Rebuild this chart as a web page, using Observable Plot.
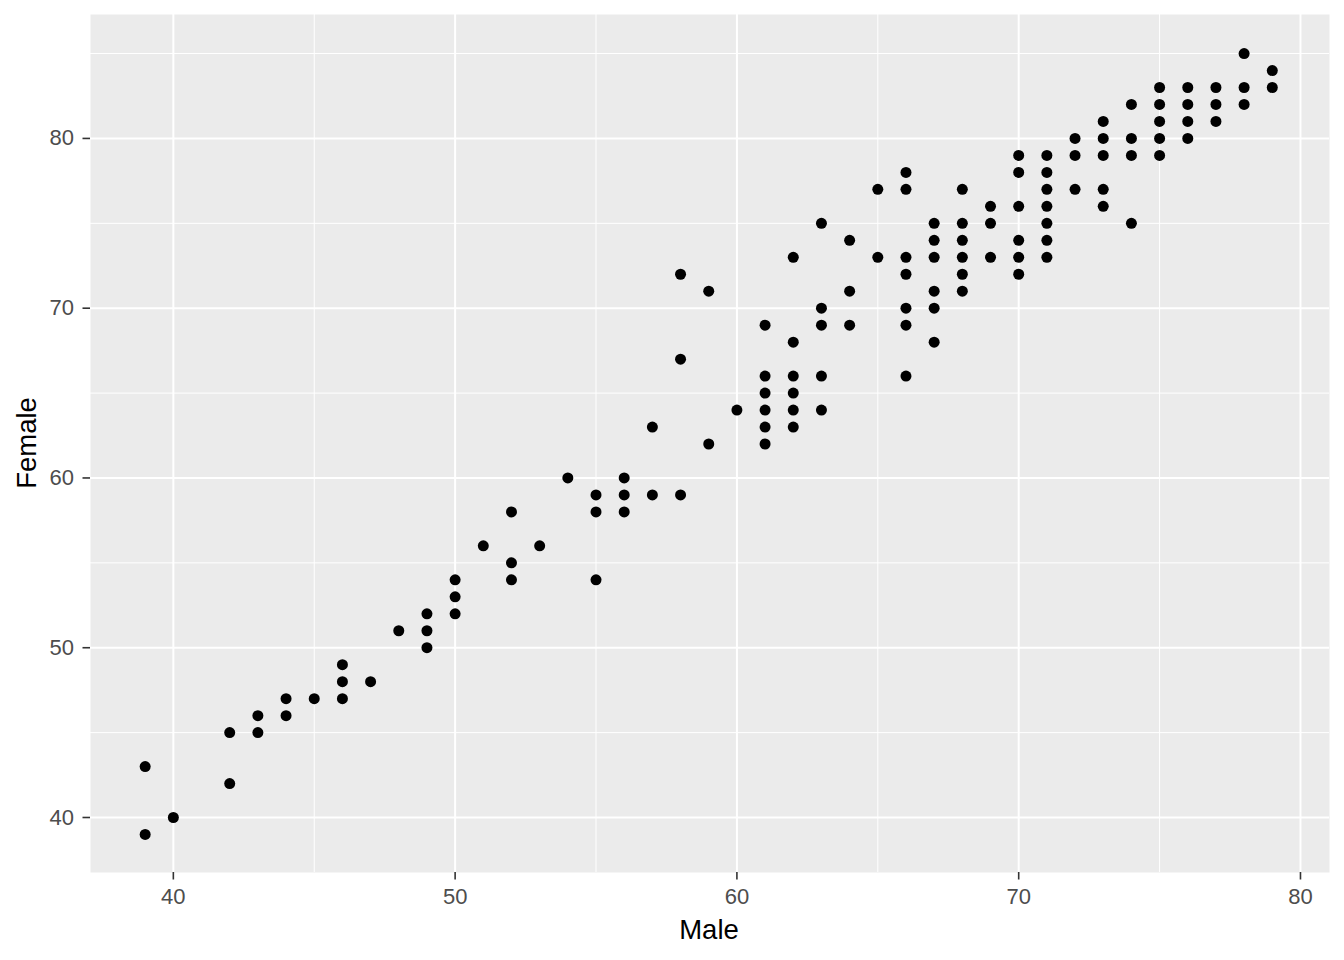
<!DOCTYPE html>
<html>
<head>
<meta charset="utf-8">
<script src="https://cdn.jsdelivr.net/npm/d3@7"></script>
<script src="https://cdn.jsdelivr.net/npm/@observablehq/plot@0.6"></script>
<style>
  html, body { margin: 0; padding: 0; background: #fff; }
  svg { display: block; }
</style>
</head>
<body>
<div id="chart"></div>
<script>
const male = [39,39,40,42,42,43,43,44,44,45,46,46,46,47,48,49,49,49,50,50,50,51,52,52,52,53,54,55,55,55,56,56,56,57,57,58,58,58,59,59,60,
  61,61,61,61,61,61,62,62,62,62,62,62,63,63,63,63,63,64,64,64,65,65,66,66,66,66,66,66,66,67,67,67,67,67,67,68,68,68,68,68,68,69,69,69,
  70,70,70,70,70,70,71,71,71,71,71,71,71,72,72,72,73,73,73,73,73,74,74,74,74,75,75,75,75,75,76,76,76,76,77,77,77,78,78,78,79,79];
const female = [43,39,40,45,42,46,45,47,46,47,49,48,47,48,51,52,51,50,54,53,52,56,58,55,54,56,60,59,58,54,60,59,58,63,59,72,67,59,71,62,64,
  69,66,65,64,63,62,73,68,66,65,64,63,75,70,69,66,64,74,71,69,77,73,78,77,73,72,70,69,66,75,74,73,71,70,68,77,75,74,73,72,71,76,75,73,
  79,78,76,74,73,72,79,78,77,76,75,74,73,80,79,77,81,80,79,77,76,82,80,79,75,83,82,81,80,79,83,82,81,80,83,82,81,85,83,82,84,83];
const xTicks = [40, 50, 60, 70, 80];
const yTicks = [40, 50, 60, 70, 80];
const xMinor = [45, 55, 65, 75];
const yMinor = [45, 55, 65, 75, 85];

const data = male.map((m, i) => ({Male: m, Female: female[i]}));

const chart = Plot.plot({
  width: 1344,
  height: 960,
  marginLeft: 90,
  marginRight: 15,
  marginTop: 14,
  marginBottom: 88,
  style: {fontFamily: "'Liberation Sans', Arial, sans-serif", background: "#fff"},
  x: {domain: [37.06, 81.03], label: null},
  y: {domain: [36.76, 87.3], label: null},
  marks: [
    Plot.frame({fill: "#EBEBEB", stroke: null}),
    Plot.ruleX(xMinor, {stroke: "#fff", strokeWidth: 1}),
    Plot.ruleY(yMinor, {stroke: "#fff", strokeWidth: 1}),
    Plot.ruleX(xTicks, {stroke: "#fff", strokeWidth: 2}),
    Plot.ruleY(yTicks, {stroke: "#fff", strokeWidth: 2}),
    Plot.axisX(xTicks, {tickSize: 7.5, tickPadding: 8.5, stroke: "#333", fill: "#4D4D4D", label: null, strokeWidth: 1.6, fontSize: 22}),
    Plot.axisY(yTicks, {tickSize: 7.5, tickPadding: 9, stroke: "#333", fill: "#4D4D4D", label: null, strokeWidth: 1.6, fontSize: 22}),
    Plot.dot(data, {x: "Male", y: "Female", r: 5.5, fill: "#000", stroke: null})
  ]
});

const svg = d3.select(chart);
svg.selectAll("g[aria-label$='tick label']").attr("font-size", 22);
svg.selectAll("g[aria-label$='tick label'] text").attr("font-size", 22);
svg.append("text")
  .attr("x", 709).attr("y", 939)
  .attr("text-anchor", "middle")
  .attr("font-size", 27.5).attr("fill", "#000")
  .attr("font-family", "'Liberation Sans', Arial, sans-serif")
  .text("Male");
svg.append("text")
  .attr("transform", "translate(36,443) rotate(-90)")
  .attr("text-anchor", "middle")
  .attr("font-size", 27.5).attr("fill", "#000")
  .attr("font-family", "'Liberation Sans', Arial, sans-serif")
  .text("Female");

document.getElementById("chart").appendChild(chart);
</script>
</body>
</html>
